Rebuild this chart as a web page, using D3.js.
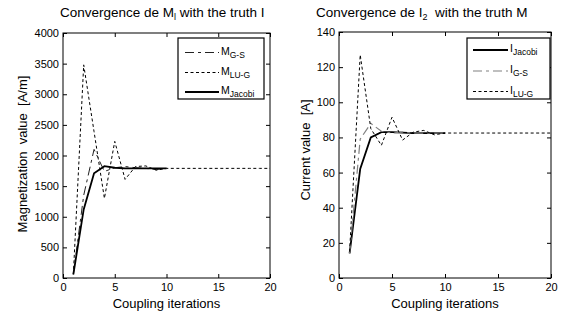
<!DOCTYPE html>
<html><head><meta charset="utf-8">
<script src="https://cdn.jsdelivr.net/npm/d3@7"></script>
<style>
body{margin:0;background:#fff;}
svg{display:block;font-family:"Liberation Sans",Arial,sans-serif;}
text{white-space:pre;}
</style></head><body>
<svg id="c" width="564" height="316"></svg>
<script>
// ---- data ----
const iterShort = [1,2,3,4,5,6,7,8,9,10];
const iterLong = [1,2,3,4,5,6,7,8,9,10,11,12,13,14,15,16,17,18,19,20];
const xTicks = [0,5,10,15,20];

const mJacobi = [60,1120,1710,1825,1800,1790,1790,1790,1790,1790];
const mGS     = [60,1350,2100,1740,1800,1820,1800,1790,1770,1790];
const mLUG    = [60,3480,2390,1300,2230,1610,1820,1830,1760,1790,1790,1790,1790,1790,1790,1790,1790,1790,1790,1790];
const mYTicks = [0,500,1000,1500,2000,2500,3000,3500,4000];

const iJacobi = [14,62,80,83,83,82.7,82.5,82.5,82.5,82.5];
const iGS     = [14,79,88,83.5,82.5,83,82.5,82.5,82.5,82.5];
const iLUG    = [15,127,85,75.5,91.5,78.5,83,84,81.5,82.5,82.5,82.5,82.5,82.5,82.5,82.5,82.5,82.5,82.5,82.5];
const iYTicks = [0,20,40,60,80,100,120,140];

const svg = d3.select("#c");

function subText(g, x, y, main, sub, size, subSize, anchor, rest){
  const t = g.append("text").attr("x",x).attr("y",y).attr("font-size",size).attr("fill","#000");
  if(anchor) t.attr("text-anchor",anchor);
  t.append("tspan").text(main);
  t.append("tspan").attr("dy",3).attr("font-size",subSize).text(sub);
  if(rest) t.append("tspan").attr("dy",-3).text(rest);
  return t;
}

function panel(o){
  const g = svg.append("g");
  const x = d3.scaleLinear().domain([0,20]).range([o.x0,o.x1]);
  const y = d3.scaleLinear().domain(o.yDomain).range([o.yB,o.yT]);
  const tl = 4;
  g.append("g").attr("transform",`translate(0,${o.yB})`)
    .call(d3.axisBottom(x).tickValues(xTicks).tickSize(-tl).tickPadding(5).tickFormat(d3.format("d")))
    .call(a=>{a.select(".domain").remove(); a.selectAll("text").attr("font-size",11).attr("font-family","Liberation Sans, Arial, sans-serif");});
  g.append("g").attr("transform",`translate(0,${o.yT})`)
    .call(d3.axisTop(x).tickValues(xTicks).tickSize(-tl).tickFormat(""))
    .call(a=>a.select(".domain").remove());
  g.append("g").attr("transform",`translate(${o.x0},0)`)
    .call(d3.axisLeft(y).tickValues(o.yTicks).tickSize(-tl).tickPadding(4).tickFormat(d3.format("d")))
    .call(a=>{a.select(".domain").remove(); a.selectAll("text").attr("font-size",11).attr("font-family","Liberation Sans, Arial, sans-serif");});
  g.append("g").attr("transform",`translate(${o.x1},0)`)
    .call(d3.axisRight(y).tickValues(o.yTicks).tickSize(-tl).tickFormat(""))
    .call(a=>a.select(".domain").remove());
  g.append("rect").attr("x",o.x0).attr("y",o.yT).attr("width",o.x1-o.x0).attr("height",o.yB-o.yT)
    .attr("fill","none").attr("stroke","#000").attr("stroke-width",1);

  const line = d3.line().x(d=>x(d[0])).y(d=>y(d[1]));
  const clip = "clip"+o.id;
  g.append("clipPath").attr("id",clip).append("rect").attr("x",o.x0).attr("y",o.yT).attr("width",o.x1-o.x0).attr("height",o.yB-o.yT);
  const plot = g.append("g").attr("clip-path",`url(#${clip})`);
  o.series.forEach(s=>{
    plot.append("path").datum(s.xs.map((v,i)=>[v,s.vals[i]]))
      .attr("d",line).attr("fill","none").attr("stroke",s.color)
      .attr("stroke-width",s.w).attr("stroke-dasharray",s.dash||null);
  });

  const L = o.legend;
  g.append("rect").attr("x",L.x).attr("y",L.y).attr("width",L.w).attr("height",L.h)
    .attr("fill","#fff").attr("stroke","#000").attr("stroke-width",1.2);
  L.order.forEach((si,k)=>{
    const s = o.series[si];
    const ly = L.rows[k];
    g.append("line").attr("x1",L.lx1).attr("x2",L.lx2).attr("y1",ly).attr("y2",ly)
      .attr("stroke",s.color).attr("stroke-width",s.w).attr("stroke-dasharray",s.dash||null);
    subText(g, L.tx, ly+2, o.sym, s.name, 10.5, 8.5);
  });

  subText(g, o.titleX, 17, o.title[0], o.title[1], 13.5, 9, "start", o.title[2]);
  g.append("text").attr("x",(o.x0+o.x1)/2).attr("y",308).attr("text-anchor","middle")
    .attr("font-size",13).text("Coupling iterations");
  g.append("text").attr("transform",`translate(${o.ylx},${o.yly}) rotate(-90)`)
    .attr("text-anchor","middle").attr("font-size",13).text(o.ylabel);
}

panel({
  id:"L", x0:63, x1:270, yT:33, yB:278, yDomain:[0,4000], yTicks:mYTicks,
  sym:"M",
  series:[
    {name:"G-S", xs:iterShort, vals:mGS, color:"#222", w:1, dash:"9,4,3,4"},
    {name:"LU-G", xs:iterLong, vals:mLUG, color:"#000", w:1, dash:"3,2.5"},
    {name:"Jacobi", xs:iterShort, vals:mJacobi, color:"#000", w:1.8}
  ],
  legend:{x:178, y:38, w:86, h:61, lx1:185, lx2:219, tx:221, rows:[52.5,72.5,92], order:[0,1,2]},
  title:["Convergence de M","l"," with the truth I"], titleX:60,
  ylabel:"Magnetization  value  [A/m]", ylx:26.5, yly:154
});

panel({
  id:"R", x0:339, x1:551, yT:32, yB:278, yDomain:[0,140], yTicks:iYTicks,
  sym:"I",
  series:[
    {name:"Jacobi", xs:iterShort, vals:iJacobi, color:"#000", w:1.8},
    {name:"G-S", xs:iterShort, vals:iGS, color:"#808080", w:1.2, dash:"9,4,3,4"},
    {name:"LU-G", xs:iterLong, vals:iLUG, color:"#000", w:1, dash:"3,2.5"}
  ],
  legend:{x:467, y:38, w:83, h:61, lx1:473, lx2:508, tx:510, rows:[50,71,91.5], order:[0,1,2]},
  title:["Convergence de I","2","  with the truth M"], titleX:316,
  ylabel:"Current value  [A]", ylx:309.5, yly:150
});
</script>
</body></html>
